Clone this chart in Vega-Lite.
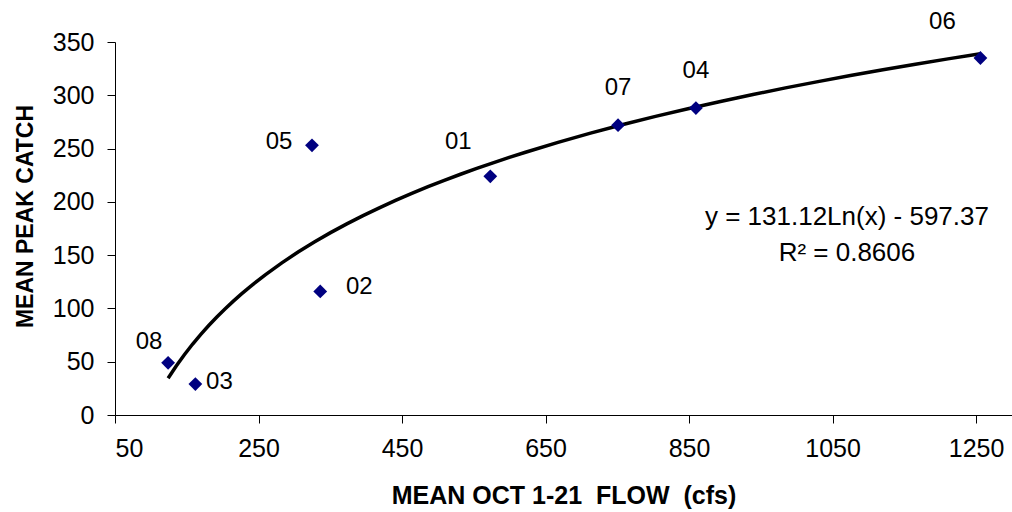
{
  "$schema": "https://vega.github.io/schema/vega-lite/v6.json",
  "width": 897,
  "height": 373,
  "autosize": "none",
  "padding": {"left": 115, "top": 42, "right": 0, "bottom": 97},
  "background": "white",
  "config": {
    "view": {"stroke": null},
    "font": "Liberation Sans",
    "axis": {
      "grid": false,
      "domainColor": "#000000",
      "tickColor": "#000000",
      "labelColor": "#000000",
      "titleColor": "#000000",
      "labelFont": "Liberation Sans",
      "titleFont": "Liberation Sans",
      "labelFontSize": 25,
      "titleFontSize": 23,
      "titleFontWeight": "bold",
      "tickSize": 8,
      "labelPadding": 13,
      "domainWidth": 1,
      "tickWidth": 1
    }
  },
  "datasets": {
    "stations": [
      {"station": "08", "flow": 124, "catch": 49},
      {"station": "03", "flow": 162, "catch": 29},
      {"station": "05", "flow": 324.5, "catch": 253},
      {"station": "02", "flow": 336, "catch": 116},
      {"station": "01", "flow": 573, "catch": 224},
      {"station": "07", "flow": 751, "catch": 272},
      {"station": "04", "flow": 859.5, "catch": 288},
      {"station": "06", "flow": 1256, "catch": 335}
    ],
    "eq": [
      {"flow": 1070, "catch": 186, "text": "y = 131.12Ln(x) - 597.37"},
      {"flow": 1070, "catch": 152, "text": "R² = 0.8606"}
    ]
  },
  "encoding": {
    "x": {
      "field": "flow",
      "type": "quantitative",
      "scale": {"domain": [50, 1300], "nice": false, "zero": false},
      "axis": {
        "title": "MEAN OCT 1-21\u00a0\u00a0FLOW\u00a0\u00a0(cfs)",
        "values": [50, 250, 450, 650, 850, 1050, 1250],
        "format": "d",
        "titleFontSize": 25,
        "titlePadding": 22
      }
    },
    "y": {
      "field": "catch",
      "type": "quantitative",
      "scale": {"domain": [0, 350], "nice": false},
      "axis": {
        "title": "MEAN PEAK CATCH",
        "values": [0, 50, 100, 150, 200, 250, 300, 350],
        "titlePadding": 15,
        "titleY": 174
      }
    }
  },
  "layer": [
    {
      "data": {"name": "stations"},
      "transform": [{"regression": "catch", "on": "flow", "method": "log"}],
      "mark": {"type": "line", "color": "#000000", "strokeWidth": 3.5}
    },
    {
      "data": {"name": "stations"},
      "mark": {"type": "point", "shape": "diamond", "filled": true, "size": 190, "color": "#000080", "opacity": 1}
    },
    {
      "data": {"name": "stations"},
      "transform": [{"filter": "datum.station === '08'"}],
      "mark": {"type": "text", "fontSize": 24, "color": "#000000", "dx": -19, "dy": -21},
      "encoding": {"text": {"field": "station"}}
    },
    {
      "data": {"name": "stations"},
      "transform": [{"filter": "datum.station === '03'"}],
      "mark": {"type": "text", "fontSize": 24, "color": "#000000", "dx": 24, "dy": -2},
      "encoding": {"text": {"field": "station"}}
    },
    {
      "data": {"name": "stations"},
      "transform": [{"filter": "datum.station === '05'"}],
      "mark": {"type": "text", "fontSize": 24, "color": "#000000", "dx": -33, "dy": -3},
      "encoding": {"text": {"field": "station"}}
    },
    {
      "data": {"name": "stations"},
      "transform": [{"filter": "datum.station === '02'"}],
      "mark": {"type": "text", "fontSize": 24, "color": "#000000", "dx": 39, "dy": -4},
      "encoding": {"text": {"field": "station"}}
    },
    {
      "data": {"name": "stations"},
      "transform": [{"filter": "datum.station === '01'"}],
      "mark": {"type": "text", "fontSize": 24, "color": "#000000", "dx": -32, "dy": -34},
      "encoding": {"text": {"field": "station"}}
    },
    {
      "data": {"name": "stations"},
      "transform": [{"filter": "datum.station === '07' || datum.station === '04'"}],
      "mark": {"type": "text", "fontSize": 24, "color": "#000000", "dx": 0, "dy": -37},
      "encoding": {"text": {"field": "station"}}
    },
    {
      "data": {"name": "stations"},
      "transform": [{"filter": "datum.station === '06'"}],
      "mark": {"type": "text", "fontSize": 24, "color": "#000000", "dx": -38, "dy": -36},
      "encoding": {"text": {"field": "station"}}
    },
    {
      "data": {"name": "eq"},
      "mark": {"type": "text", "fontSize": 26, "color": "#000000"},
      "encoding": {"text": {"field": "text"}}
    }
  ]
}
